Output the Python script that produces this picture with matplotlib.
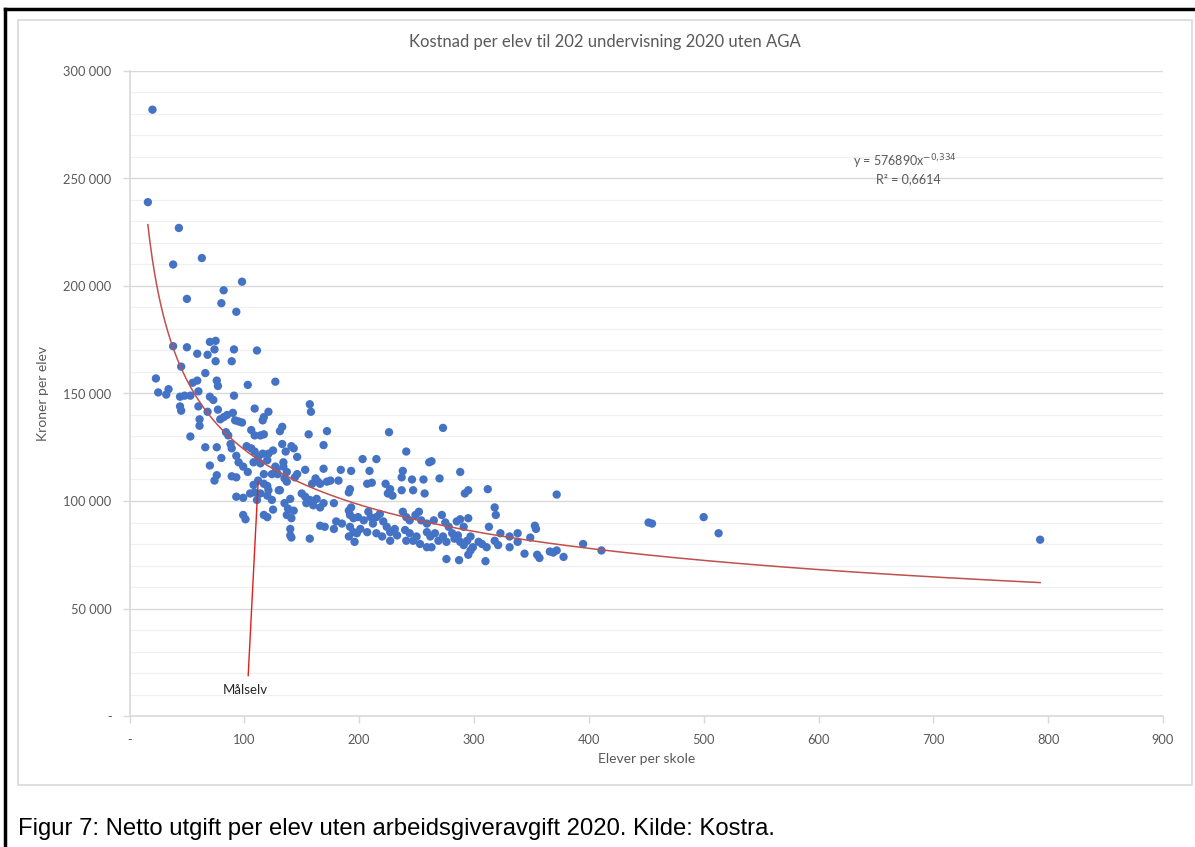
import numpy as np
import matplotlib
matplotlib.use("Agg")
import matplotlib.pyplot as plt
from matplotlib.ticker import MultipleLocator, FuncFormatter
from matplotlib.patches import Rectangle
from matplotlib.lines import Line2D

plt.rcParams['font.family'] = ['Lato', 'DejaVu Sans']

# Elever per skole / kroner per elev
elever = [
    20, 16, 43, 38, 63, 98, 82, 50, 80, 93,
    38, 50, 59, 68, 70, 75, 74, 75, 91, 89, 111, 45, 23, 66, 55, 59,
    76, 77, 103, 127, 25, 32, 34, 44, 48, 53, 60, 70, 73, 91, 44, 45,
    60, 68, 77, 61, 61, 79, 82, 85, 90, 92, 95, 98, 109, 116, 117, 121,
    53, 84, 86, 106, 109, 114, 117, 66, 76, 80, 88, 89, 93, 95, 102, 106,
    109, 112, 116, 121, 125, 70, 76, 74, 89, 93, 99, 103, 108, 114, 120,
    117, 124, 128, 127, 108, 112, 117, 120, 121, 109, 114, 105, 130, 93,
    99, 111, 120, 124, 99, 101, 117, 120, 125,
    157, 158, 133, 131, 156, 172, 226, 169, 133, 136, 141, 143, 146, 134,
    134, 203, 215, 241, 261, 169, 184, 193, 153, 209, 238,
    129, 137, 146, 237, 246, 256, 135, 137, 144, 159, 162, 164, 166, 172,
    175, 182, 192, 191, 207, 211, 223, 227, 225, 229, 237, 247, 257, 131,
    140, 150, 153, 154, 157, 160, 163, 166, 169, 178, 135, 138, 143, 137,
    141, 166, 170, 178, 180, 185, 191, 193, 192, 195, 199, 204, 208, 210,
    212, 192, 195, 191, 198, 201, 207, 196, 215, 218, 221, 224, 227, 231,
    233, 227, 220, 215, 238, 241, 244, 249, 252, 254, 259, 240, 244, 250,
    247, 241, 253, 259, 157, 140, 141, 140,
    273, 263, 270, 288, 292, 295, 312, 372, 318, 319, 265, 272, 275, 278,
    285, 288, 295, 291, 259, 262, 266, 269, 263, 273, 276, 281, 283, 286,
    288, 291, 294, 297, 299, 304, 307, 311, 276, 287, 295, 310, 297, 313,
    318, 321, 323, 331, 331, 338, 338, 344, 349, 353, 354, 355, 357, 366,
    369, 372, 378, 395, 411,
    452, 455, 500, 513, 793,
]
kostnad = [
    282000, 239000, 227000, 210000, 213000, 202000, 198000, 194000, 192000, 188000,
    172000, 171500, 168500, 168000, 174000, 174500, 170500, 165000, 170500, 165000, 170000, 162500, 157000, 159500, 155000, 156000,
    156000, 153500, 154000, 155500, 150500, 149500, 152000, 148500, 149000, 149000, 151000, 148500, 147000, 149000, 144000, 142000,
    144000, 141500, 142500, 138000, 135000, 138000, 139000, 140000, 141000, 137500, 137000, 136500, 143000, 137500, 139000, 141500,
    130000, 132000, 130500, 133000, 130500, 130500, 131000, 125000, 125000, 120000, 126500, 124500, 121000, 118000, 125500, 124500,
    123000, 120500, 122000, 122000, 123500, 116500, 112000, 109500, 111500, 111000, 116000, 113500, 118000, 117500, 119000,
    112500, 112500, 114500, 116000, 107500, 109500, 108000, 107000, 105000, 104000, 103500, 103500, 105000, 102000,
    101500, 100500, 102500, 100500, 93500, 91500, 93500, 92500, 96000,
    145000, 141500, 134500, 132500, 131000, 132500, 132000, 126000, 126500, 123000, 125500, 124500, 120500, 118000,
    116000, 119500, 119500, 123000, 118000, 115000, 114500, 114000, 114500, 114000, 114000,
    112500, 113500, 112500, 111000, 110000, 110000, 110500, 109000, 111000, 108000, 110500, 109000, 108000, 109000,
    109500, 109500, 105500, 104000, 108000, 108500, 108000, 105500, 103500, 102500, 105000, 105000, 103500, 105000,
    101000, 103500, 102000, 99000, 100500, 98000, 101000, 97000, 99000, 99000, 99000, 96500, 95500, 93500,
    92000, 88500, 88000, 87000, 90500, 89500, 95500, 97000, 93500, 92000, 92500, 91000, 95000, 92500,
    89500, 88000, 85500, 83500, 85000, 87000, 85500, 81000, 92500, 94000, 90500, 88000, 85500, 87000,
    84000, 81500, 83500, 85000, 95000, 92500, 91000, 93500, 95000, 91000, 89500, 86500, 85000, 83500,
    81500, 81500, 80000, 78500, 82500, 84000, 83000, 87000,
    134000, 118500, 110500, 113500, 103500, 105000, 105500, 103000, 97000, 93500, 91000, 93500, 90000, 88000,
    90500, 91500, 92000, 88000, 85500, 83500, 85000, 81500, 78500, 83500, 81000, 85000, 82500, 84000,
    81000, 79500, 81500, 83500, 78500, 81000, 80000, 78500, 73000, 72500, 75000, 72000, 77000, 88000,
    81500, 79500, 85000, 83500, 78500, 85000, 81000, 75500, 83000, 88500, 87000, 75000, 73500, 76500,
    76000, 77000, 74000, 80000, 77000,
    90000, 89500, 92500, 85000, 82000,
]

# Excel power trendline shown in the chart
fit_a = 576890
fit_b = -0.334
fit_r2 = "0,6614"

malselv_x = 112
malselv_y = 108800

x_ticks = [0, 100, 200, 300, 400, 500, 600, 700, 800, 900]
y_ticks = [0, 50000, 100000, 150000, 200000, 250000, 300000]

grey_txt = '#595959'

fig = plt.figure(figsize=(11.95, 8.47), dpi=100)
fig.patch.set_facecolor('white')

# chart area border (light grey) and black frame
fig.patches.append(Rectangle((18 / 1195, 1 - 785 / 847), (1192 - 18) / 1195, (785 - 20) / 847,
                             transform=fig.transFigure, fill=False, edgecolor='#D9D9D9', lw=1.2))
fig.lines.append(Line2D([5 / 1195, 1], [1 - 9 / 847, 1 - 9 / 847], transform=fig.transFigure,
                        color='black', lw=2.5))
fig.lines.append(Line2D([5 / 1195, 5 / 1195], [0, 1 - 9 / 847], transform=fig.transFigure,
                        color='black', lw=2.5))

ax = fig.add_axes([129.5 / 1195, 1 - 716 / 847, (1163 - 129.5) / 1195, (716 - 71) / 847])

ax.scatter(elever, kostnad, s=36, color='#4472C4', edgecolors='none', zorder=3)

xs = np.linspace(min(elever), max(elever), 400)
ax.plot(xs, fit_a * xs ** fit_b, color='#C0504D', lw=1.1, zorder=4)

ax.annotate('Målselv', xy=(malselv_x, malselv_y), xytext=(101, 12000),
            ha='center', va='center', fontsize=9.5, color='#262626',
            arrowprops=dict(arrowstyle='-', color='#E0201B', lw=1, relpos=(0.55, 1.0),
                            shrinkA=4, shrinkB=0), zorder=5)

ax.text(675, 258000, r'y = 576890x$^{-0{,}334}$', fontsize=9, color=grey_txt, ha='center', va='center')
ax.text(678, 249500, 'R² = ' + fit_r2, fontsize=9, color=grey_txt, ha='center', va='center')

ax.set_xlim(0, 900)
ax.set_ylim(0, 300000)
ax.set_xticks(x_ticks)
ax.set_yticks(y_ticks)
ax.yaxis.set_minor_locator(MultipleLocator(10000))
ax.xaxis.set_major_formatter(FuncFormatter(lambda v, p: '-' if v == 0 else f'{int(v)}'))
ax.yaxis.set_major_formatter(FuncFormatter(lambda v, p: '-' if v == 0 else f'{int(v):,}'.replace(',', ' ')))

ax.grid(True, axis='y', which='major', color='#D9D9D9', lw=1)
ax.grid(True, axis='y', which='minor', color='#F0F0F0', lw=0.9)
ax.set_axisbelow(True)

for s in ['top', 'right']:
    ax.spines[s].set_visible(False)
for s in ['left', 'bottom']:
    ax.spines[s].set_color('#D9D9D9')
    ax.spines[s].set_linewidth(1.2)

ax.tick_params(axis='both', which='major', colors='#D9D9D9', labelcolor=grey_txt, labelsize=9.3,
               length=5, width=1)
ax.tick_params(axis='y', which='minor', length=0)
ax.tick_params(axis='x', pad=8)
ax.tick_params(axis='y', pad=8)

ax.set_xlabel('Elever per skole', fontsize=10, color=grey_txt, labelpad=5)
ax.set_ylabel('Kroner per elev', fontsize=10, color=grey_txt, labelpad=10)

fig.text(605 / 1195, 1 - 42 / 847, 'Kostnad per elev til 202 undervisning 2020 uten AGA',
         ha='center', va='center', fontsize=12, color=grey_txt)

fig.text(18 / 1195, 1 - 829 / 847,
         'Figur 7: Netto utgift per elev uten arbeidsgiveravgift 2020. Kilde: Kostra.',
         ha='left', va='center', fontsize=17.2, color='black', family=['Liberation Sans', 'DejaVu Sans'])

fig.savefig('out.png', dpi=100)
